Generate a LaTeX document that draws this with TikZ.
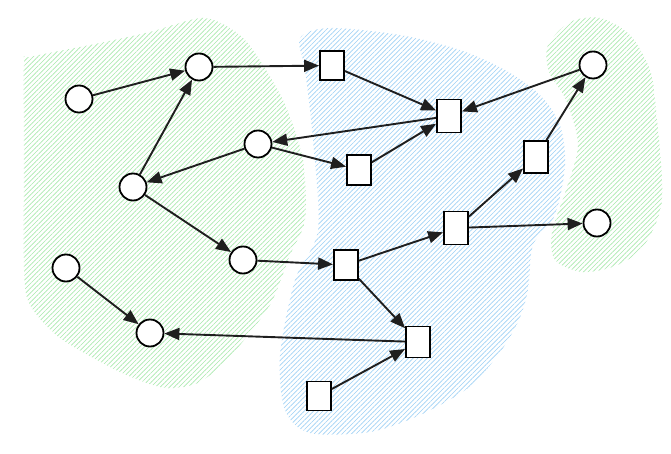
\documentclass[tikz,border=0pt]{standalone}
\usepackage{tikz}
\usetikzlibrary{arrows.meta,patterns.meta}
\definecolor{hatchgreen}{RGB}{168,232,172}
\definecolor{hatchblue}{RGB}{158,208,244}

\begin{document}
\begin{tikzpicture}[
  x=1pt,y=-1pt,
  place/.style={draw,circle,line width=1.8pt,fill=white,minimum size=27pt,inner sep=0pt},
  trans/.style={draw,rectangle,line width=1.8pt,fill=white,minimum width=24pt,minimum height=30pt,inner sep=0pt},
  arc/.style={-{Triangle[length=15pt,width=12pt]},line width=1.9pt,draw=black!88},
  zone/.style={pattern={Lines[angle=45,distance=3.3pt,line width=0.65pt]}},
  greenzone/.style={zone,pattern color=hatchgreen},
  bluezone/.style={zone,pattern color=hatchblue}
]
\useasboundingbox (0,0) rectangle (671,454);

% hatched areas
\path[greenzone] plot[smooth cycle,tension=0.45] coordinates {(24,62) (30,57) (100,43) (150,32) (205,18) (245,40) (283,100) (303,160) (305,220) (290,255) (270,305) (233,353) (200,382) (165,388) (120,372) (60,338) (30,305) (24,270) (24,150)};
\path[greenzone] plot[smooth cycle,tension=0.5] coordinates {(548,45) (570,22) (600,18) (630,35) (650,70) (656,110) (662,200) (643,247) (615,266) (582,272) (555,260) (552,232) (566,190) (578,145) (566,100) (549,72)};
\path[bluezone] plot[smooth cycle,tension=0.5] coordinates {(300,38) (330,28) (400,35) (460,50) (505,70) (540,95) (560,125) (565,165) (555,215) (533,245) (528,290) (518,322) (498,355) (468,388) (420,415) (370,432) (310,433) (285,410) (280,355) (295,280) (318,230) (313,140) (305,70)};

% places
\node[place] (p1) at (79,99) {};
\node[place] (p2) at (199,67) {};
\node[place] (p3) at (258,144) {};
\node[place] (p4) at (133,187) {};
\node[place] (p5) at (243,260) {};
\node[place] (p6) at (66,268) {};
\node[place] (p7) at (150,333) {};
\node[place] (p8) at (593,65) {};
\node[place] (p9) at (597,223) {};

% transitions
\node[trans,minimum height=29pt] (t1) at (332,65.5) {};
\node[trans,minimum height=33pt] (t2) at (449,116) {};
\node[trans] (t3) at (359,170) {};
\node[trans,minimum height=32pt] (t4) at (536,157) {};
\node[trans,minimum height=33pt] (t5) at (456,228) {};
\node[trans] (t6) at (346,265) {};
\node[trans,minimum height=31pt] (t7) at (418,342) {};
\node[trans,minimum height=29pt] (t8) at (319,396) {};

% arcs
\draw[arc] (p1) -- (p2);
\draw[arc] (p4) -- (p2);
\draw[arc] (p2) -- (t1);
\draw[arc] (t1) -- (t2);
\draw[arc] (t2) -- (p3);
\draw[arc] (p3) -- (p4);
\draw[arc] (p3) -- (t3);
\draw[arc] (t3) -- (t2);
\draw[arc] (p8) -- (t2);
\draw[arc] (p4) -- (p5);
\draw[arc] (p5) -- (t6);
\draw[arc] (t6) -- (t5);
\draw[arc] (t6) -- (t7);
\draw[arc] (t5) -- (t4);
\draw[arc] (t4) -- (p8);
\draw[arc] (t5) -- (p9);
\draw[arc] (t7) -- (p7);
\draw[arc] (p6) -- (p7);
\draw[arc] (t8) -- (t7);
\end{tikzpicture}
\end{document}
